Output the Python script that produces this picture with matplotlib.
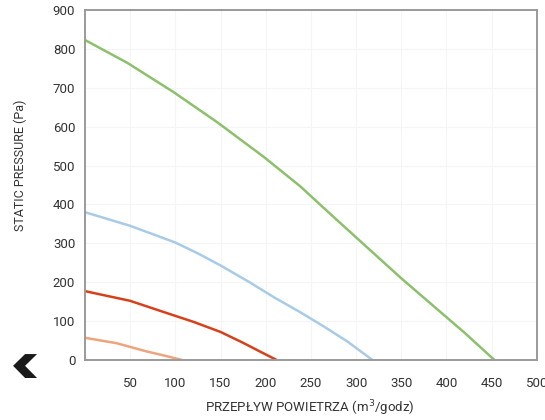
import matplotlib.pyplot as plt
from matplotlib.patches import Polygon

# valeurs (debit m3/h, pression Pa)
green_x = [0, 47, 98, 146, 198, 238, 275, 312, 350, 385, 420, 453]
green_y = [823, 764, 689, 612, 522, 447, 368, 290, 210, 140, 70, 0]

blue_x = [0, 50, 100, 125, 150, 182, 210, 238, 265, 290, 318]
blue_y = [380, 345, 302, 274, 243, 200, 160, 123, 85, 48, 0]

red_x = [0, 50, 90, 120, 150, 175, 195, 212]
red_y = [177, 152, 121, 98, 72, 44, 20, 0]

orange_x = [0, 35, 68, 90, 107]
orange_y = [57, 43, 22, 10, 0]

x_ticks = [50, 100, 150, 200, 250, 300, 350, 400, 450, 500]
y_ticks = [0, 100, 200, 300, 400, 500, 600, 700, 800, 900]

plt.rcParams['font.family'] = ['Roboto', 'DejaVu Sans']

fig = plt.figure(figsize=(5.45, 4.2), dpi=100)
ax = fig.add_axes([0.156, 0.143, 0.829, 0.833])

ax.plot(green_x, green_y, color='#8cc16c', lw=1.8, solid_capstyle='butt')
ax.plot(blue_x, blue_y, color='#a8cbe8', lw=1.8, solid_capstyle='butt')
ax.plot(red_x, red_y, color='#d8401a', lw=1.8, solid_capstyle='butt')
ax.plot(orange_x, orange_y, color='#eea47c', lw=1.8, solid_capstyle='butt')

ax.set_xlim(0, 500)
ax.set_ylim(0, 900)
ax.set_xticks(x_ticks)
ax.set_yticks(y_ticks)
ax.tick_params(length=0, labelsize=9.5, colors='#333333')
ax.tick_params(axis='x', pad=12)
ax.tick_params(axis='y', pad=7)
ax.grid(True, color='#f5f5f5', lw=0.8)
for s in ax.spines.values():
    s.set_color('#9a9a9a')
    s.set_linewidth(1.4)

fig.text(0.569, 0.028, 'PRZEPŁYW POWIETRZA (m$^3$/godz)', ha='center', va='center',
         fontsize=9.5, color='#333333')
fig.text(0.037, 0.607, 'STATIC PRESSURE (Pa)', ha='center', va='center', rotation=90,
         fontsize=9, color='#333333')

# fleche de retour en bas a gauche
chev = [(0.068, 0.157), (0.046, 0.157), (0.024, 0.129), (0.046, 0.100),
        (0.068, 0.100), (0.046, 0.129)]
fig.patches.append(Polygon(chev, closed=True, transform=fig.transFigure,
                           facecolor='#1a1a1a', edgecolor='none'))

fig.savefig('out.png', dpi=100)
